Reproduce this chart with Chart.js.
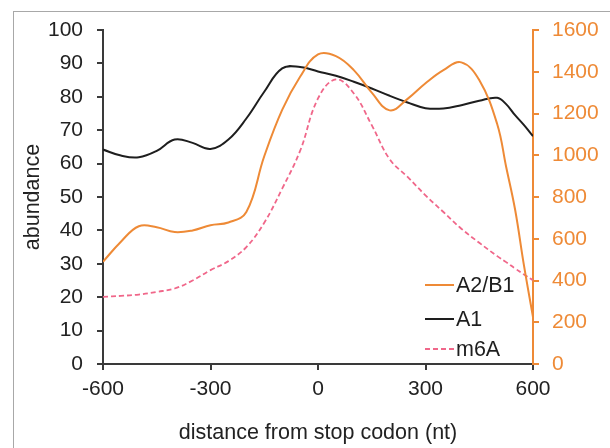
<!DOCTYPE html>
<html>
<head>
<meta charset="utf-8">
<script src="https://cdn.jsdelivr.net/npm/chart.js@4"></script>
<style>
  body { margin: 0; background: #fff; }
  .wrap { position: relative; width: 610px; height: 448px; overflow: hidden; }
  .frame { position: absolute; left: 13px; top: 11px; width: 700px; height: 600px; border: 1.5px solid #a8a8a8; }
  canvas { position: absolute; left: 0; top: 0; }
</style>
</head>
<body>
<div class="wrap">
  <div class="frame"></div>
  <canvas id="myChart" width="610" height="448"></canvas>
</div>
<script>
const positions = [-600, -550, -500, -450, -400, -350, -300, -250, -200, -150, -100, -50, 0,
  50, 100, 150, 200, 250, 300, 350, 400, 450, 500, 525, 550, 575, 600];

const a2b1 = [490, 586, 660, 655, 632, 640, 665, 678, 728, 995, 1217, 1376, 1483,
  1475, 1408, 1300, 1215, 1270, 1345, 1408, 1445, 1360, 1150, 945, 740, 470, 225];

const a1 = [64.2, 62.4, 61.9, 63.8, 67.2, 66.2, 64.4, 67.2, 73.5, 81.5, 88.5, 88.9, 87.6,
  86.3, 84.5, 82.5, 80.3, 78.3, 76.6, 76.5, 77.5, 78.8, 79.7, 77.8, 74.5, 71.5, 68.2];

const m6a = [20.1, 20.4, 20.8, 21.6, 22.6, 25, 28.1, 30.8, 35, 42.3, 52.5, 63.8, 79.5,
  85.2, 81, 71.5, 61.3, 56, 50.5, 45.5, 40.5, 36.3, 32.3, 30.5, 28.6, 26.8, 25.1];

const xTicks = [-600, -300, 0, 300, 600];

const orange = '#ee8a36';
const black = '#1e1e1e';
const pink = '#f0678a';
const axisGray = '#3a3a3a';
const fontName = '"Liberation Sans", Arial, sans-serif';

const toPoints = (values) => positions.map((x, i) => ({ x: x, y: values[i] }));

const legendInside = {
  id: 'legendInside',
  afterDatasetsDraw(chart) {
    const c = chart.ctx;
    const rows = [
      { label: 'A2/B1', color: orange, dash: [], y: 285 },
      { label: 'A1', color: black, dash: [], y: 319 },
      { label: 'm6A', color: pink, dash: [5, 3], y: 349 }
    ];
    c.save();
    c.font = '21.5px ' + fontName;
    c.textBaseline = 'middle';
    rows.forEach(r => {
      c.beginPath();
      c.setLineDash(r.dash);
      c.strokeStyle = r.color;
      c.lineWidth = 2;
      c.moveTo(425, r.y);
      c.lineTo(454, r.y);
      c.stroke();
      c.setLineDash([]);
      c.fillStyle = '#1e1e1e';
      c.fillText(r.label, 456, r.y + 1);
    });
    c.restore();
  }
};

const ctx = document.getElementById('myChart');

new Chart(ctx, {
  type: 'line',
  data: {
    datasets: [
      {
        label: 'A2/B1',
        data: toPoints(a2b1),
        yAxisID: 'y2',
        borderColor: orange,
        borderWidth: 2,
        tension: 0.4
      },
      {
        label: 'A1',
        data: toPoints(a1),
        yAxisID: 'y',
        borderColor: black,
        borderWidth: 2,
        tension: 0.4
      },
      {
        label: 'm6A',
        data: toPoints(m6a),
        yAxisID: 'y',
        borderColor: pink,
        borderWidth: 1.8,
        borderDash: [5, 3],
        tension: 0.4
      }
    ]
  },
  options: {
    responsive: false,
    animation: false,
    layout: { padding: { top: 30, left: 0, right: 0, bottom: 0 } },
    elements: { point: { radius: 0 } },
    plugins: {
      legend: { display: false },
      tooltip: { enabled: false }
    },
    scales: {
      x: {
        type: 'linear',
        min: -600,
        max: 600,
        afterBuildTicks: (scale) => { scale.ticks = xTicks.map(v => ({ value: v })); },
        afterFit: (scale) => { scale.height = 84; },
        ticks: { color: '#222', font: { size: 21, family: fontName }, padding: 7, maxRotation: 0 },
        grid: { drawOnChartArea: false, tickLength: 6, color: axisGray, lineWidth: 2 },
        border: { color: axisGray, width: 2 },
        title: {
          display: true,
          text: 'distance from stop codon (nt)',
          color: '#222',
          font: { size: 21.5, family: fontName },
          padding: { top: 0, bottom: 2 }
        }
      },
      y: {
        position: 'left',
        min: 0,
        max: 100,
        ticks: { stepSize: 10, color: '#222', font: { size: 21, family: fontName }, padding: 14 },
        afterFit: (scale) => { scale.width = 103; },
        grid: { drawOnChartArea: false, tickLength: 6, color: axisGray, lineWidth: 2 },
        border: { color: axisGray, width: 2 },
        title: {
          display: true,
          text: 'abundance',
          color: '#222',
          font: { size: 21.5, family: fontName },
          padding: { top: 20, bottom: 0 }
        }
      },
      y2: {
        position: 'right',
        min: 0,
        max: 1600,
        ticks: {
          stepSize: 200,
          color: orange,
          font: { size: 21, family: fontName },
          padding: 13,
          callback: (v) => String(v)
        },
        afterFit: (scale) => { scale.width = 77; },
        grid: { drawOnChartArea: false, tickLength: 6, color: orange, lineWidth: 2 },
        border: { color: orange, width: 2 }
      }
    }
  },
  plugins: [legendInside]
});
</script>
</body>
</html>
